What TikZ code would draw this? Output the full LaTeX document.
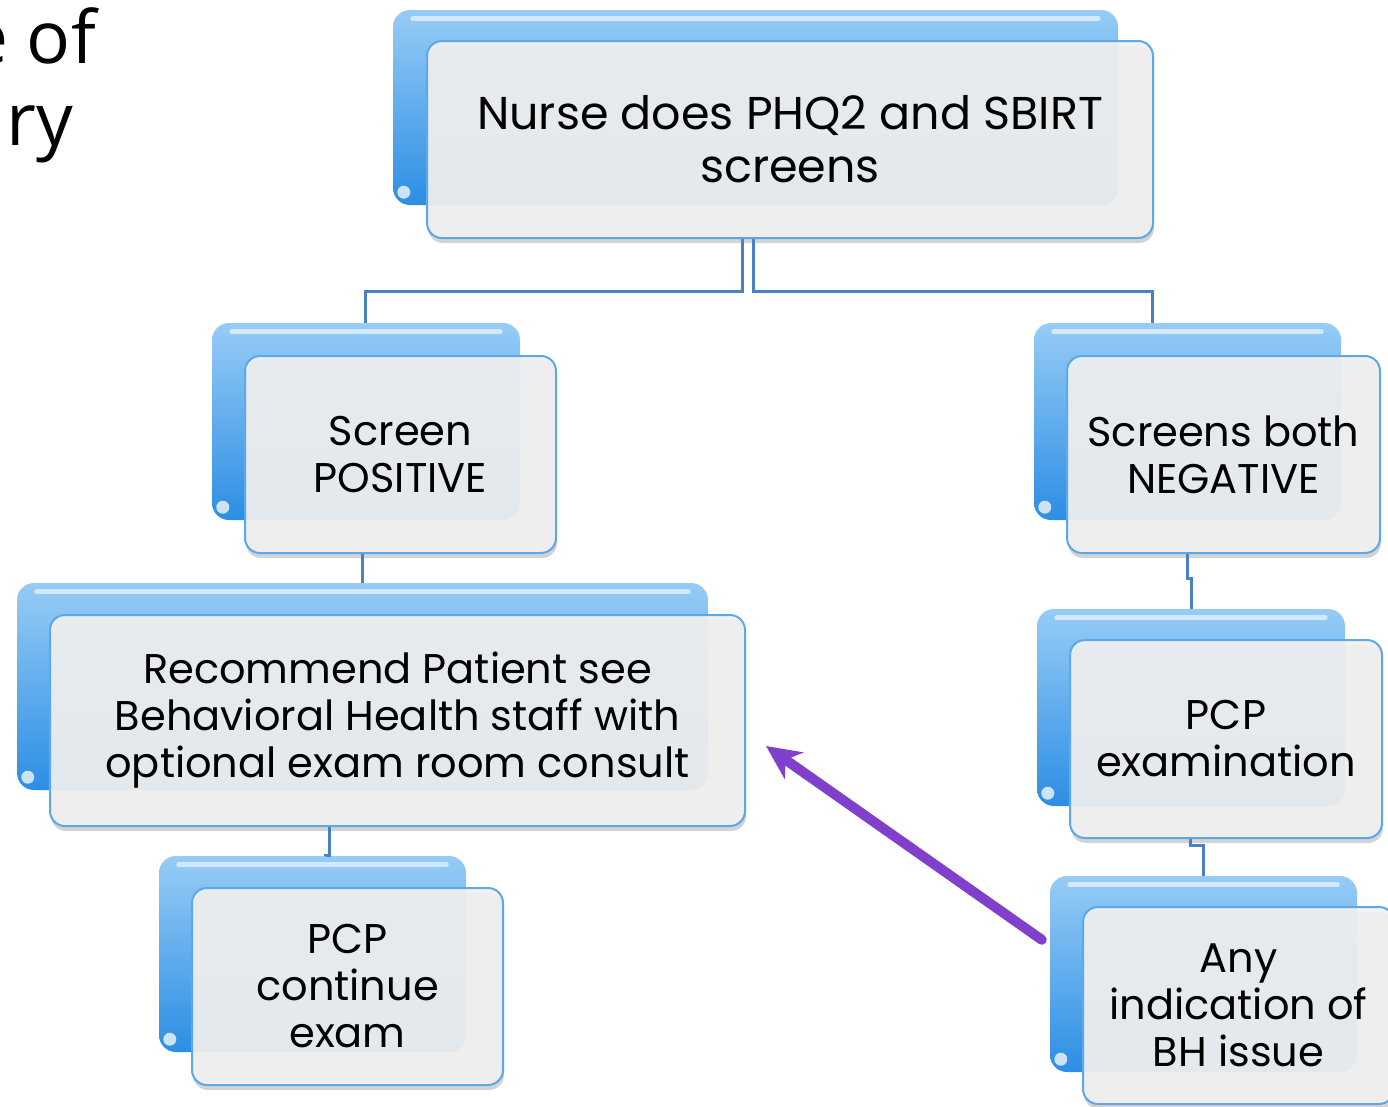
\documentclass[tikz,border=0pt]{standalone}
\usepackage{fontspec}
\setmainfont{Poppins}
\newfontfamily\titlefont{Open Sans}
\usetikzlibrary{shadows,arrows.meta,calc}
\definecolor{connc}{RGB}{72,130,192}
\definecolor{frontline}{RGB}{92,168,232}
\definecolor{frontfill}{RGB}{241,241,241}
\definecolor{backtop}{RGB}{150,204,246}
\definecolor{backbot}{RGB}{44,142,228}
\definecolor{arrowc}{RGB}{128,64,204}
\tikzset{
  backbox/.style={rectangle, rounded corners=17pt, top color=backtop, bottom color=backbot, draw=none, inner sep=0pt},
  gloss/.style={white, opacity=0.6, line width=5pt, line cap=round},
  frontbox/.style={rectangle, rounded corners=15pt, draw=frontline, line width=2pt, fill=frontfill, fill opacity=0.92, text opacity=1,
    drop shadow={opacity=0.35, shadow xshift=1pt, shadow yshift=-5pt}, align=center, inner sep=0pt,
    font=\fontsize{41.5pt}{47pt}\selectfont},
  bigtext/.style={font=\fontsize{46pt}{53pt}\selectfont},
  conn/.style={draw=connc, line width=3pt},
  bigarrow/.style={draw=arrowc, line width=10pt, line cap=round, -{Stealth[length=34pt,width=32pt,inset=10pt]}},
  titletext/.style={font=\titlefont\fontsize{73pt}{80pt}\selectfont, inner sep=0pt}
}
\begin{document}
\begin{tikzpicture}[x=1pt,y=-1pt]
\useasboundingbox (0,0) rectangle (1388,1106);
\clip (0,0) rectangle (1388,1106);

% partial slide title
\node[titletext, anchor=base east] (t1) at (96,63) {e of};
\node[titletext, anchor=base east] (t2) at (73,145) {ry};

% back tabs
\node[backbox, minimum width=725pt, minimum height=195pt] (b1) at (755.5,107.5) {};
\node[backbox, minimum width=308pt, minimum height=197pt] (b2) at (366,421.5) {};
\node[backbox, minimum width=307pt, minimum height=197pt] (b3) at (1187.5,421.5) {};
\node[backbox, minimum width=691pt, minimum height=207pt] (b4) at (362.5,686.5) {};
\node[backbox, minimum width=308pt, minimum height=197pt] (b5) at (1191,707.5) {};
\node[backbox, minimum width=307pt, minimum height=196pt] (b6) at (312.5,954) {};
\node[backbox, minimum width=307pt, minimum height=196pt] (b7) at (1203.5,974) {};

\foreach \b in {b1,b2,b3,b4,b5,b6,b7}{
  \draw[gloss] ([shift={(20,9)}]\b.north west) -- ([shift={(-20,9)}]\b.north east);
  \fill[white, opacity=0.75] ([shift={(11,-13)}]\b.south west) circle (6.5pt);
}

% front boxes
\node[frontbox, bigtext, minimum width=726pt, minimum height=197pt] (n1) at (790,139.5) {Nurse does PHQ2 and SBIRT\\screens};
\node[frontbox, minimum width=311pt, minimum height=197pt] (n2) at (400.5,454.5) {Screen\\POSITIVE};
\node[frontbox, minimum width=313pt, minimum height=197pt] (n3) at (1223.5,454.5) {Screens both\\NEGATIVE};
\node[frontbox, minimum width=695pt, minimum height=211pt] (n4) at (397.5,720.5) {Recommend Patient see\\Behavioral Health staff with\\optional exam room consult};
\node[frontbox, minimum width=312pt, minimum height=198pt] (n5) at (1226,739) {PCP\\examination};
\node[frontbox, minimum width=311pt, minimum height=197pt] (n6) at (347.5,986.5) {PCP\\continue\\exam};
\node[frontbox, minimum width=311pt, minimum height=197pt] (n7) at (1238.5,1005.5) {Any\\indication of\\BH issue};

% connectors
\draw[conn] ([xshift=-48pt]n1.south) -- ++(0,52) -| ([xshift=-1pt]b2.north);
\draw[conn] ([xshift=-37pt]n1.south) -- ++(0,52) -| ([xshift=-35.5pt]b3.north);
\draw[conn] ($(n2.south -| b2.south)+(-4,0)$) -- ($(b4.north -| b2.south)+(-4,0)$);
\draw[conn] (n3.south -| b3.south) -- ++(0,24) -| ($(b5.north -| b3.south)+(3.5,0)$);
\draw[conn] ($(n5.south -| b5.south)+(-1,0)$) -- ++(0,6) -| (b7.north);
\draw[conn] ([xshift=-68pt]n4.south) -- ++(0,28) -| ([xshift=13pt]b6.north);

% purple arrow
\draw[bigarrow] ([shift={(-8,64)}]b7.north west) -- ([shift={(20,-81)}]n4.south east);
\end{tikzpicture}
\end{document}
